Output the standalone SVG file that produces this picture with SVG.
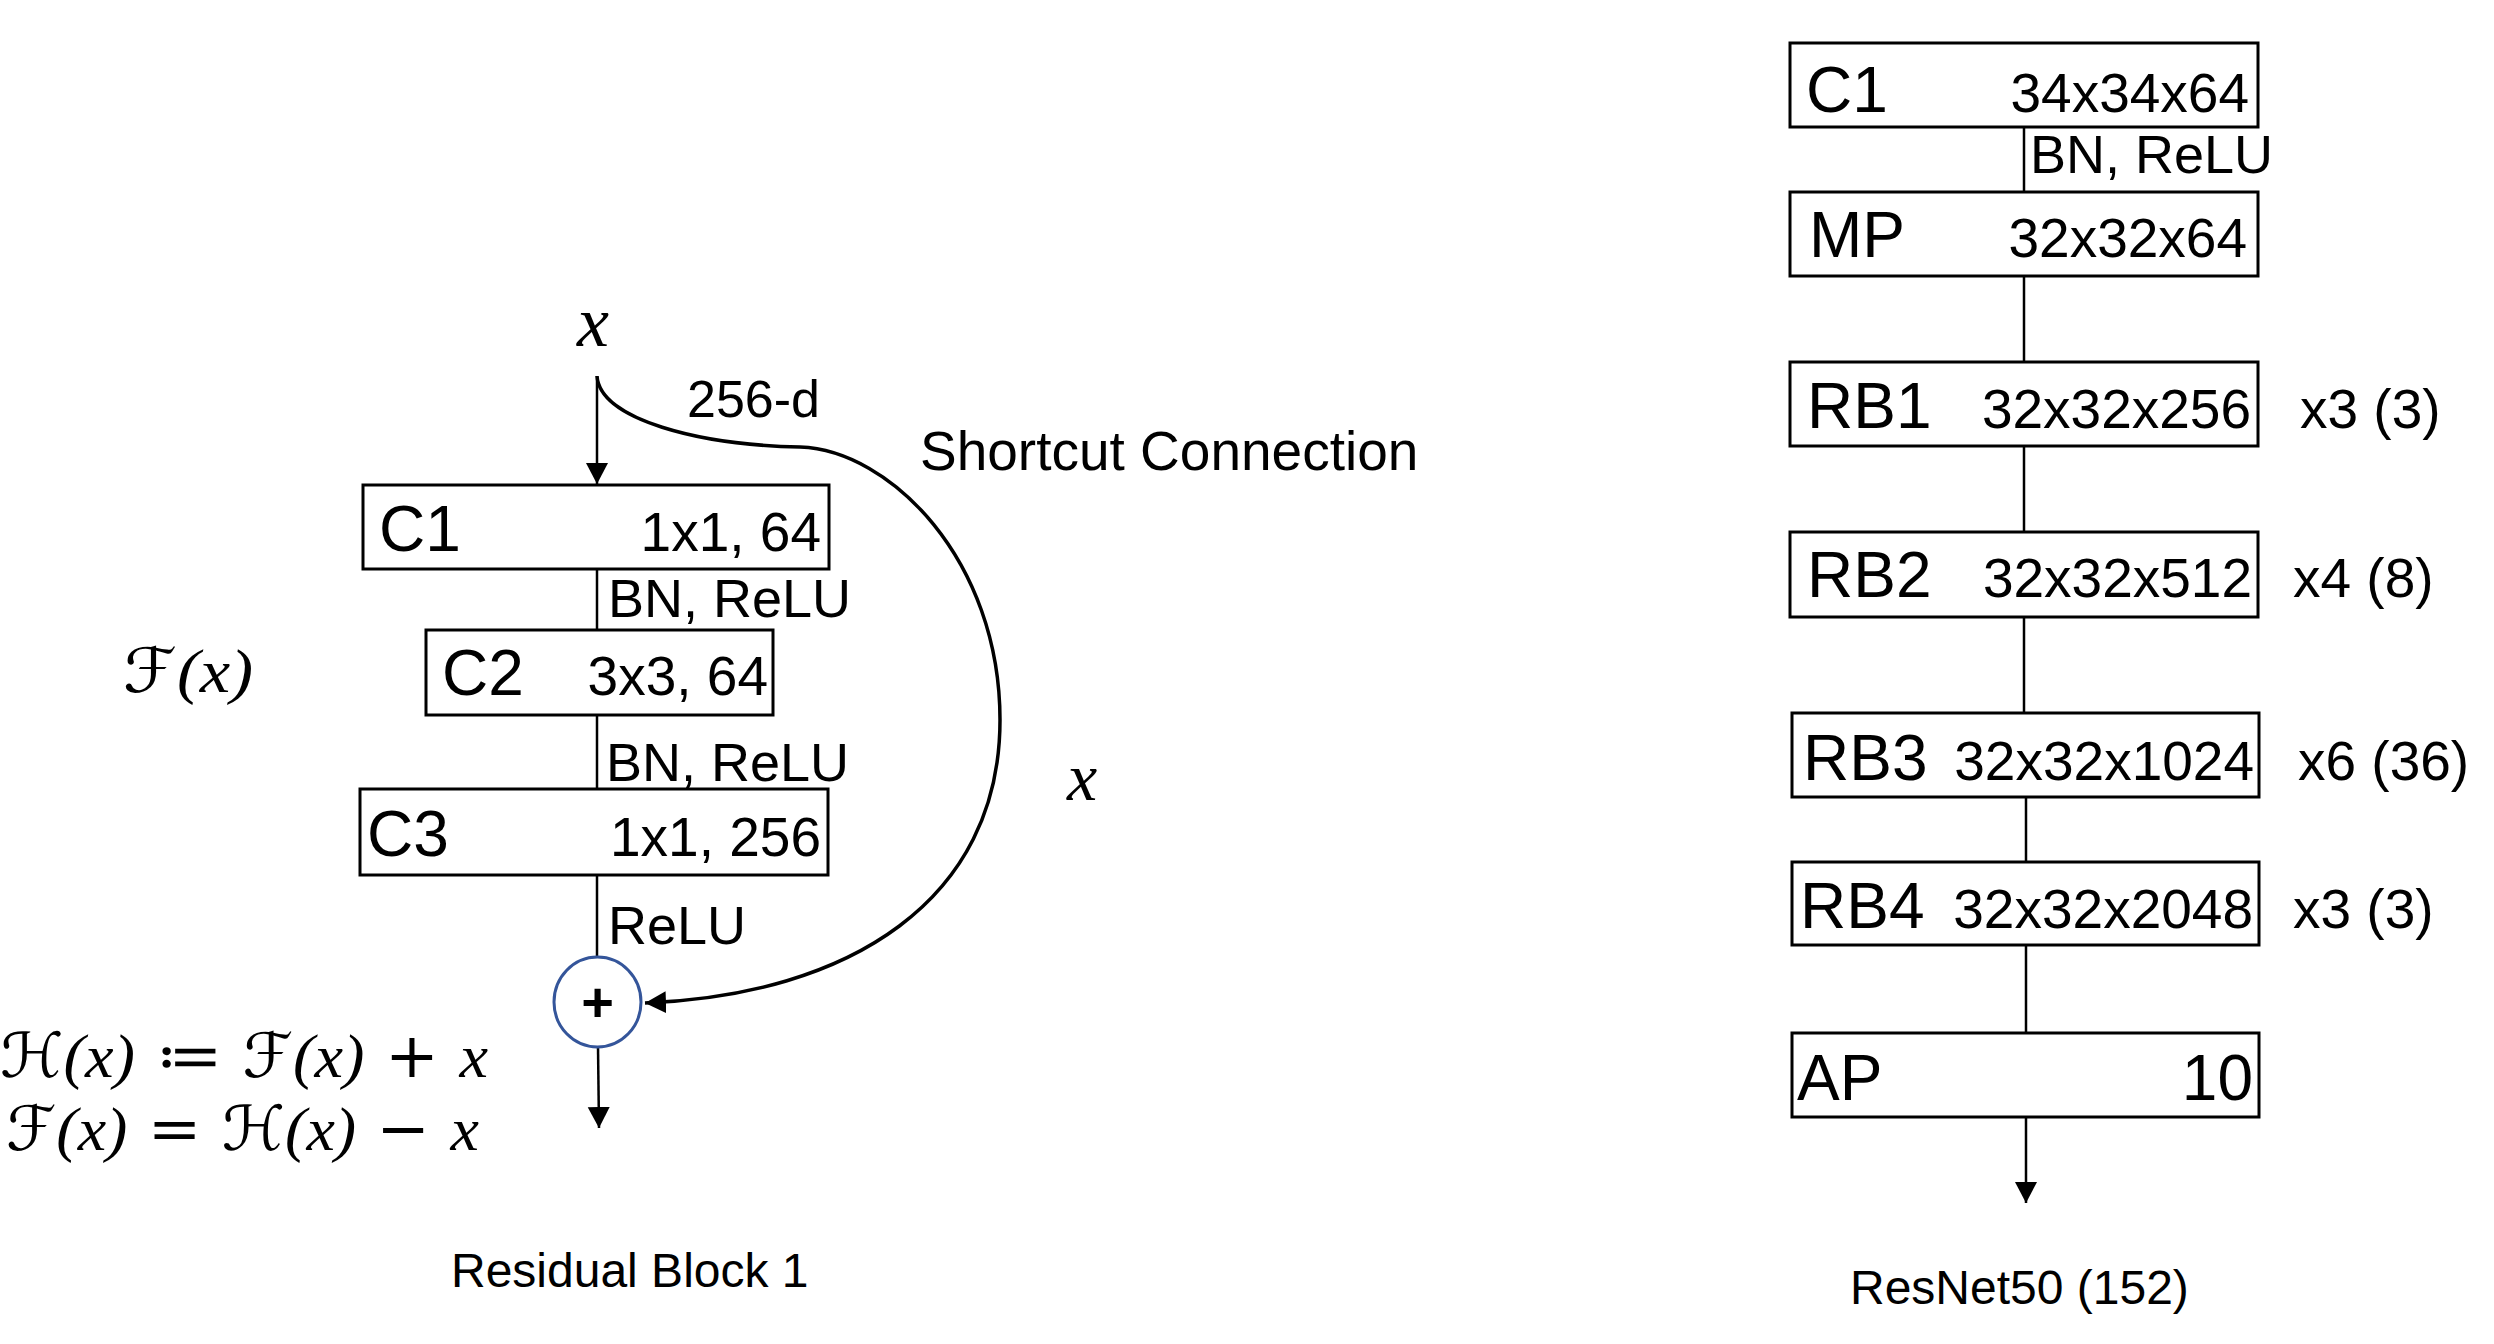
<svg xmlns="http://www.w3.org/2000/svg" width="2494" height="1344" viewBox="0 0 2494 1344">
<style>
.box{fill:#fff;stroke:#000;stroke-width:3}
.ln{fill:none;stroke:#000;stroke-width:2.5}
.t{font-family:"Liberation Sans",Arial,sans-serif;fill:#000}
.big{font-size:64px}
.spec{font-size:55px}
.lab{font-size:54px}
.cap{font-size:48px}
.m{font-family:"Liberation Serif","DejaVu Serif",serif;font-style:italic;fill:#000}
.ms{font-family:"DejaVu Serif","DejaVu Sans",serif;fill:#000}
.r{text-anchor:end}
</style>
<defs>
<marker id="ah" markerUnits="userSpaceOnUse" markerWidth="24" markerHeight="24" refX="21" refY="11" orient="auto">
<path d="M0,0 L21,11 L0,22 z" fill="#000"/>
</marker>
</defs>
<g id="connectors">
<line class="ln" x1="597" y1="376" x2="597" y2="484" marker-end="url(#ah)"/>
<path class="ln" style="stroke-width:3.5" d="M597,376 C600,420 700,445 800,447 C890,450 1000,560 1000,720 C1000,900 850,995 645,1003" marker-end="url(#ah)"/>
<line class="ln" x1="597" y1="569" x2="597" y2="630"/>
<line class="ln" x1="597" y1="715" x2="597" y2="789"/>
<line class="ln" x1="597" y1="875" x2="597" y2="957"/>
<line class="ln" x1="598" y1="1047" x2="599" y2="1128" marker-end="url(#ah)"/>
<line class="ln" x1="2024" y1="127" x2="2024" y2="192"/>
<line class="ln" x1="2024" y1="276" x2="2024" y2="362"/>
<line class="ln" x1="2024" y1="446" x2="2024" y2="532"/>
<line class="ln" x1="2024" y1="617" x2="2024" y2="713"/>
<line class="ln" x1="2026" y1="797" x2="2026" y2="862"/>
<line class="ln" x1="2026" y1="945" x2="2026" y2="1033"/>
<line class="ln" x1="2026" y1="1117" x2="2026" y2="1203" marker-end="url(#ah)"/>
</g>
<g id="labels-left">
<text class="m" x="577" y="346" font-size="72">x</text>
<text class="t" x="687" y="417" font-size="52">256-d</text>
<text class="t" x="920" y="470" font-size="55">Shortcut Connection</text>
<text class="t lab" x="608" y="617">BN, ReLU</text>
<text class="t lab" x="606" y="781">BN, ReLU</text>
<text class="t lab" x="608" y="944">ReLU</text>
<text class="m" x="1067" y="800" font-size="68">x</text>
<text class="ms" x="123" y="692" font-size="62" textLength="130" lengthAdjust="spacingAndGlyphs">ℱ<tspan class="m" font-style="normal">(</tspan><tspan class="m">x</tspan><tspan class="m" font-style="normal">)</tspan></text>
<text class="ms" x="0" y="1077" font-size="62" textLength="488" lengthAdjust="spacingAndGlyphs">ℋ<tspan class="m" font-style="normal">(</tspan><tspan class="m">x</tspan><tspan class="m" font-style="normal">)</tspan> ≔ ℱ<tspan class="m" font-style="normal">(</tspan><tspan class="m">x</tspan><tspan class="m" font-style="normal">)</tspan> + <tspan class="m">x</tspan></text>
<text class="ms" x="6" y="1150" font-size="62" textLength="473" lengthAdjust="spacingAndGlyphs">ℱ<tspan class="m" font-style="normal">(</tspan><tspan class="m">x</tspan><tspan class="m" font-style="normal">)</tspan> = ℋ<tspan class="m" font-style="normal">(</tspan><tspan class="m">x</tspan><tspan class="m" font-style="normal">)</tspan> − <tspan class="m">x</tspan></text>
<text class="t cap" x="451" y="1287">Residual Block 1</text>
</g>
<g id="rb-c1">
<rect class="box" x="363" y="485" width="466" height="84"/>
<text class="t big" x="379" y="551">C1</text>
<text class="t spec r" x="821" y="551">1x1, 64</text>
</g>
<g id="rb-c2">
<rect class="box" x="426" y="630" width="347" height="85"/>
<text class="t big" x="442" y="695">C2</text>
<text class="t spec r" x="768" y="695">3x3, 64</text>
</g>
<g id="rb-c3">
<rect class="box" x="360" y="789" width="468" height="86"/>
<text class="t big" x="367" y="856">C3</text>
<text class="t spec r" x="821" y="856">1x1, 256</text>
</g>
<g id="rb-add">
<ellipse cx="597.5" cy="1002" rx="43.5" ry="45" fill="#fff" stroke="#34559A" stroke-width="3"/>
<text class="t" x="597.5" y="1021" font-size="56" font-weight="bold" text-anchor="middle">+</text>
</g>
<g id="rn-c1">
<rect class="box" x="1790" y="43" width="468" height="84"/>
<text class="t big" x="1806" y="112">C1</text>
<text class="t spec r" x="2249" y="112">34x34x64</text>
</g>
<text class="t lab" x="2030" y="173">BN, ReLU</text>
<g id="rn-mp">
<rect class="box" x="1790" y="192" width="468" height="84"/>
<text class="t big" x="1809" y="257">MP</text>
<text class="t spec r" x="2247" y="257">32x32x64</text>
</g>
<g id="rn-rb1">
<rect class="box" x="1790" y="362" width="468" height="84"/>
<text class="t big" x="1807" y="428">RB1</text>
<text class="t spec r" x="2251" y="428">32x32x256</text>
<text class="t spec" x="2300" y="428">x3 (3)</text>
</g>
<g id="rn-rb2">
<rect class="box" x="1790" y="532" width="468" height="85"/>
<text class="t big" x="1807" y="597">RB2</text>
<text class="t spec r" x="2252" y="597">32x32x512</text>
<text class="t spec" x="2293" y="597">x4 (8)</text>
</g>
<g id="rn-rb3">
<rect class="box" x="1792" y="713" width="467" height="84"/>
<text class="t big" x="1803" y="780">RB3</text>
<text class="t spec r" x="2254" y="780">32x32x1024</text>
<text class="t spec" x="2298" y="780">x6 (36)</text>
</g>
<g id="rn-rb4">
<rect class="box" x="1792" y="862" width="467" height="83"/>
<text class="t big" x="1800" y="928">RB4</text>
<text class="t spec r" x="2253" y="928">32x32x2048</text>
<text class="t spec" x="2293" y="928">x3 (3)</text>
</g>
<g id="rn-ap">
<rect class="box" x="1792" y="1033" width="467" height="84"/>
<text class="t big" x="1797" y="1100">AP</text>
<text class="t big r" x="2253" y="1100">10</text>
</g>
<text class="t cap" x="1850" y="1304">ResNet50 (152)</text>
</svg>
